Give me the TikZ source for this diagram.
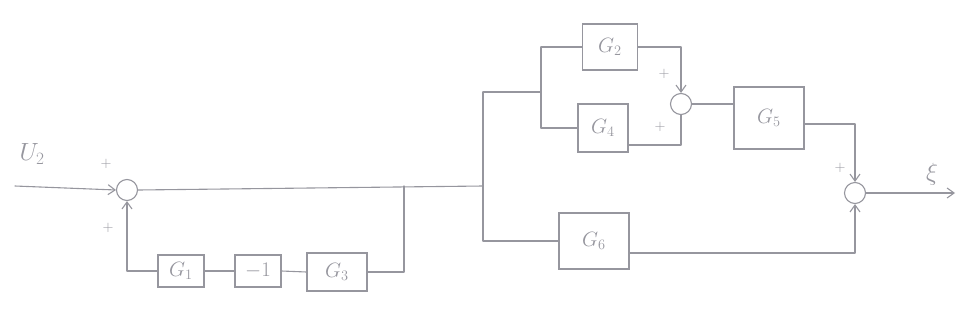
\documentclass[tikz,border=0pt]{standalone}
\usetikzlibrary{arrows.meta}
\definecolor{pencil}{RGB}{150,150,158}
\begin{document}
\begin{tikzpicture}[x=1pt,y=-1pt,
  every node/.style={text=pencil},
  line/.style={draw=pencil,line width=1.1pt,line cap=round,line join=round},
  arr/.style={line,-{Straight Barb[length=7pt,width=10pt]}},
  blk/.style={draw=pencil,line width=1.1pt,rectangle,inner sep=2pt,font=\fontsize{21}{23}\selectfont},
  sumc/.style={draw=pencil,line width=1.1pt,circle,minimum size=21pt,inner sep=0pt},
  sgn/.style={font=\fontsize{15}{16}\selectfont},
  lbl/.style={font=\fontsize{24}{26}\selectfont}]
\useasboundingbox (0,0) rectangle (962,322);
% summing junctions
\node[sumc] (s1) at (127,190) {};
\node[sumc] (s2) at (681,104) {};
\node[sumc] (s3) at (855,193) {};
% blocks
\node[blk,minimum width=46pt,minimum height=32pt] (g1) at (181,271) {$G_1$};
\node[blk,minimum width=46pt,minimum height=32pt] (m1) at (258,271) {$-1$};
\node[blk,minimum width=60pt,minimum height=38pt] (g3) at (337,272) {$G_3$};
\node[blk,minimum width=55pt,minimum height=46pt] (g2) at (610,47) {$G_2$};
\node[blk,minimum width=50pt,minimum height=48pt] (g4) at (603,128) {$G_4$};
\node[blk,minimum width=70pt,minimum height=62pt] (g5) at (769,118) {$G_5$};
\node[blk,minimum width=70pt,minimum height=56pt] (g6) at (594,241) {$G_6$};
% helper coordinates
\coordinate (in) at (15,186);
\coordinate (fb) at (404,186);
\coordinate (b1) at (483,186);
\coordinate (b1t) at (483,92);
\coordinate (b1b) at (483,232);
\coordinate (b2) at (541,92);
\coordinate (b2t) at (541,47);
\coordinate (b2b) at (541,128);
\coordinate (out) at (955,193);
% labels
\node[lbl] (u2) at (32,154) {$U_2$};
\node[lbl] (y) at (932,174) {$\xi$};
\node[sgn] (p1) at (106,164) {$+$};
\node[sgn] (p2) at (108,228) {$+$};
\node[sgn] (p3) at (664,74) {$+$};
\node[sgn] (p4) at (660,127) {$+$};
\node[sgn] (p5) at (840,168) {$+$};
% forward path
\draw[arr] (in) -- (s1.west);
\draw[line] (s1.east) -- (b1);
\draw[line] (b1t) -- (b1b);
\draw[line] (b1t) -- (b2);
\draw[line] (b2t) -- (b2b);
\draw[line] (b2t) -- (g2.west);
\draw[line] (b2b) -- (g4.west);
\draw[arr] (g2.east) -| (s2.north);
\draw[line] ([yshift=-17pt]g4.east) -| (s2.south);
\draw[line] (s2.east) -- (s2.east -| g5.west);
\draw[arr] ([yshift=-6pt]g5.east) -| (s3.north);
\draw[line] (b1b) |- (g6.west);
\draw[arr] ([yshift=-12pt]g6.east) -| (s3.south);
\draw[arr] (s3.east) -- (out);
% feedback path
\draw[line] (fb) |- (g3.east);
\draw[line] (g3.west) -- (m1.east);
\draw[line] (m1.west) -- (g1.east);
\draw[arr] (g1.west) -| (s1.south);
\end{tikzpicture}
\end{document}
